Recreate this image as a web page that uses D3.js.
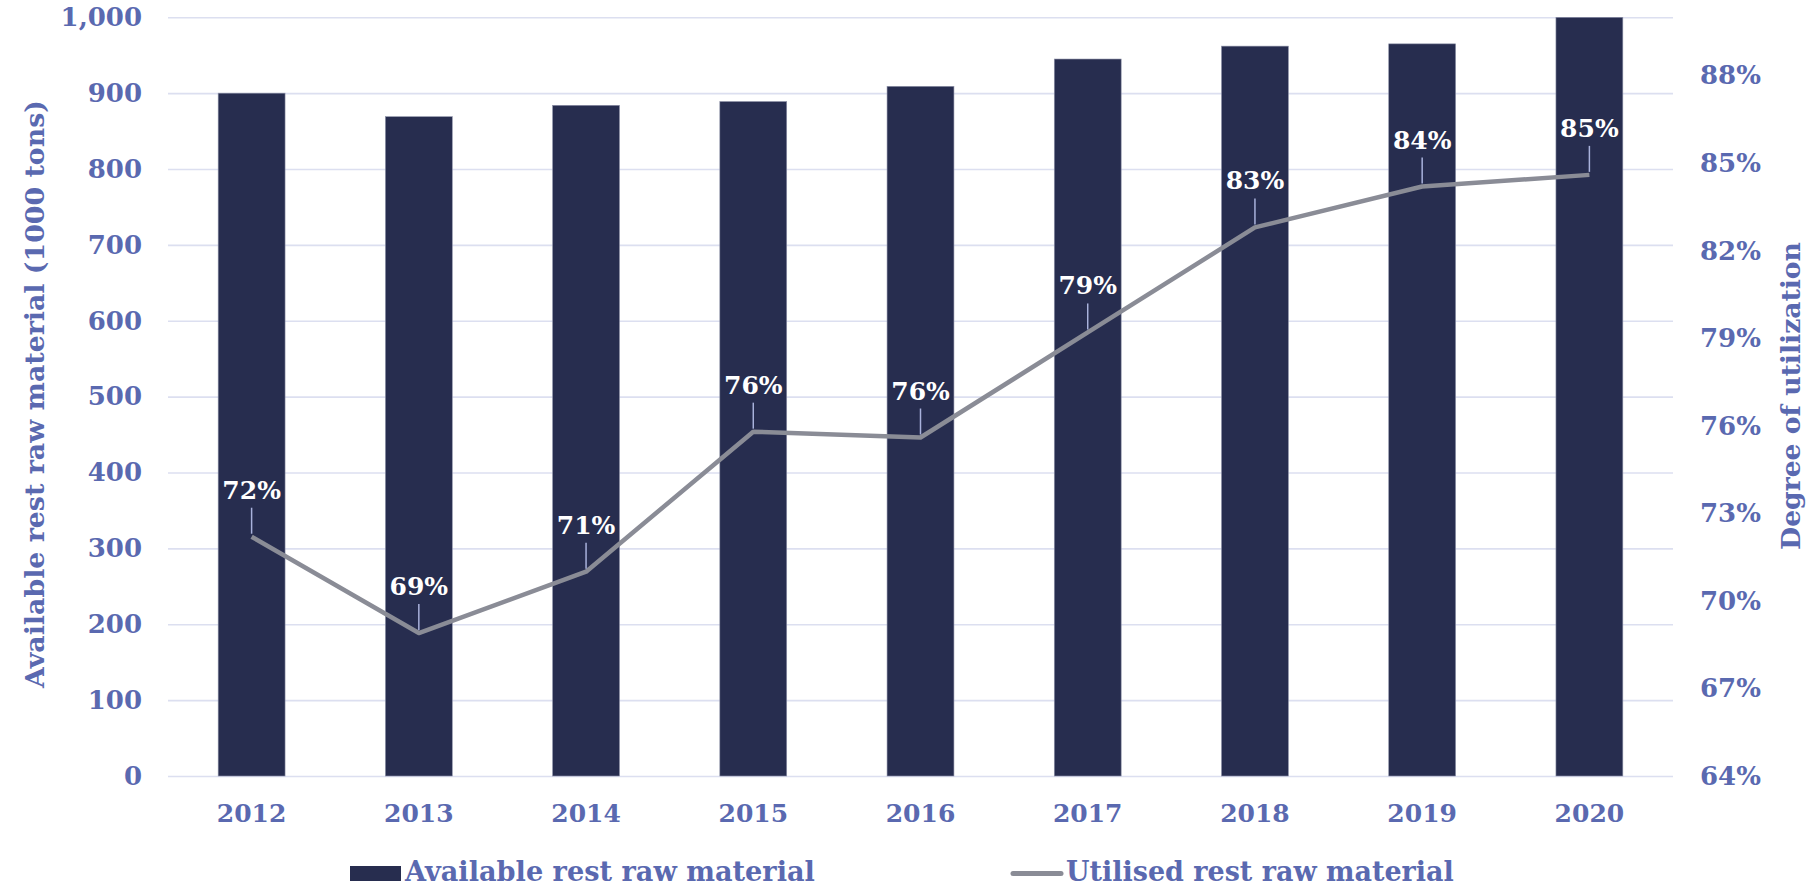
<!DOCTYPE html>
<html>
<head>
<meta charset="utf-8">
<script src="https://cdn.jsdelivr.net/npm/d3@7"></script>
<style>
  body { margin: 0; background: #fff; }
  text { font-family: "DejaVu Serif", "Liberation Serif", serif; font-weight: bold; }
</style>
</head>
<body>
<svg id="chart" width="1807" height="887"></svg>
<script>
// chart values
var years = ["2012", "2013", "2014", "2015", "2016", "2017", "2018", "2019", "2020"];
var available = [900, 869, 884, 889, 909, 945, 962, 965, 1000];
var utilised = [0.722, 0.689, 0.710, 0.758, 0.756, 0.792, 0.828, 0.842, 0.846];
var leftTicks = [0, 100, 200, 300, 400, 500, 600, 700, 800, 900, 1000];
var rightTicks = [0.64, 0.67, 0.70, 0.73, 0.76, 0.79, 0.82, 0.85, 0.88];

var barColor = "#272d4f",
    lineColor = "#8a8c96",
    textColor = "#5a69b0",
    gridColor = "#dcdff0";

var svg = d3.select("#chart"),
    plotL = 168, plotR = 1673, plotT = 17.3, plotB = 776;

var xScale = d3.scaleBand().domain(years).range([plotL, plotR]).paddingInner(0.6).paddingOuter(0.3),
    yLeft = d3.scaleLinear().domain([0, 1000]).range([plotB, plotT]),
    yRight = d3.scaleLinear().domain([0.64, 0.90]).range([plotB, plotT]);

// shrink or grow a text so it spans a given width
function fitWidth(sel, w) {
  var n = sel.node().getComputedTextLength();
  var fs = parseFloat(sel.attr("font-size"));
  sel.attr("font-size", fs * w / n);
}

// gridlines
svg.append("g")
  .attr("transform", "translate(" + plotL + ",0)")
  .call(d3.axisLeft(yLeft).tickValues(leftTicks).tickSize(-(plotR - plotL)).tickFormat(""))
  .call(function(g) { g.select(".domain").remove(); })
  .selectAll("line")
  .attr("stroke", gridColor)
  .attr("stroke-width", 1.6);

// left axis labels
var gl = svg.append("g")
  .attr("transform", "translate(142,0)")
  .call(d3.axisLeft(yLeft).tickValues(leftTicks).tickSize(0).tickPadding(0).tickFormat(d3.format(",")));
gl.select(".domain").remove();
gl.selectAll("text")
  .attr("font-size", 26)
  .attr("font-family", null)
  .attr("fill", textColor);

// right axis labels
var gr = svg.append("g")
  .attr("transform", "translate(1700,0)")
  .call(d3.axisRight(yRight).tickValues(rightTicks).tickSize(0).tickPadding(0).tickFormat(d3.format(".0%")));
gr.select(".domain").remove();
gr.selectAll("text")
  .attr("font-size", 26)
  .attr("font-family", null)
  .attr("fill", textColor);

// x axis labels
var gx = svg.append("g")
  .attr("transform", "translate(0," + plotB + ")")
  .call(d3.axisBottom(xScale).tickSize(0).tickPadding(0));
gx.select(".domain").remove();
gx.selectAll("text")
  .attr("dy", null)
  .attr("y", 46)
  .attr("font-size", 25)
  .attr("font-family", null)
  .attr("fill", textColor);

// bars
svg.append("g")
  .selectAll("rect")
  .data(years)
  .enter()
  .append("rect")
  .attr("x", function(d) { return xScale(d); })
  .attr("y", function(d, i) { return yLeft(available[i]); })
  .attr("width", xScale.bandwidth())
  .attr("height", function(d, i) { return plotB - yLeft(available[i]); })
  .attr("fill", barColor)
  .attr("stroke", "#8e92a8")
  .attr("stroke-width", 0.6);

// utilisation line
var line = d3.line()
  .x(function(d, i) { return xScale(years[i]) + xScale.bandwidth() / 2; })
  .y(function(d) { return yRight(d); });

svg.append("path")
  .datum(utilised)
  .attr("d", line)
  .attr("fill", "none")
  .attr("stroke", lineColor)
  .attr("stroke-width", 4.5)
  .attr("stroke-linejoin", "round");

// data labels with leader lines
var lab = svg.append("g")
  .selectAll("g")
  .data(utilised)
  .enter()
  .append("g")
  .attr("transform", function(d, i) {
    return "translate(" + (xScale(years[i]) + xScale.bandwidth() / 2) + "," + yRight(d) + ")";
  });

lab.append("line")
  .attr("y1", -29)
  .attr("y2", -3)
  .attr("stroke", "#a9b2dc")
  .attr("stroke-width", 1.5);

lab.append("text")
  .attr("y", -38)
  .attr("text-anchor", "middle")
  .attr("font-size", 25)
  .attr("fill", "#fff")
  .text(function(d) { return d3.format(".0%")(d); });

// axis titles
var t1 = svg.append("text")
  .attr("transform", "translate(34,394) rotate(-90)")
  .attr("text-anchor", "middle")
  .attr("dominant-baseline", "central")
  .attr("font-size", 26)
  .attr("fill", textColor)
  .text("Available rest raw material (1000 tons)");
fitWidth(t1, 588);

var t2 = svg.append("text")
  .attr("transform", "translate(1790,396) rotate(-90)")
  .attr("text-anchor", "middle")
  .attr("dominant-baseline", "central")
  .attr("font-size", 26)
  .attr("fill", textColor)
  .text("Degree of utilization");
fitWidth(t2, 308);

// legend
svg.append("rect")
  .attr("x", 350).attr("y", 866)
  .attr("width", 51).attr("height", 15)
  .attr("fill", barColor);

var l1 = svg.append("text")
  .attr("x", 405).attr("y", 881)
  .attr("font-size", 27)
  .attr("fill", textColor)
  .text("Available rest raw material");
fitWidth(l1, 410);

svg.append("line")
  .attr("x1", 1013).attr("x2", 1061)
  .attr("y1", 873.5).attr("y2", 873.5)
  .attr("stroke", lineColor)
  .attr("stroke-width", 5)
  .attr("stroke-linecap", "round");

var l2 = svg.append("text")
  .attr("x", 1066).attr("y", 881)
  .attr("font-size", 27)
  .attr("fill", textColor)
  .text("Utilised rest raw material");
fitWidth(l2, 388);
</script>
</body>
</html>
